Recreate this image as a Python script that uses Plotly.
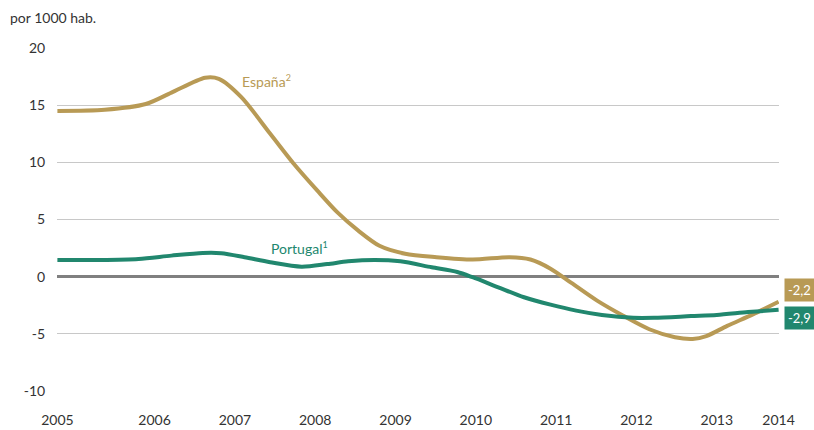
import plotly.graph_objects as go

# Decimal-year positions and values (por 1000 hab.)
spain_x = [2004.79, 2005.38, 2005.89, 2006.21, 2006.63, 2006.80, 2007.08, 2007.44, 2007.73,
           2008.03, 2008.28, 2008.54, 2008.80, 2009.12, 2009.51, 2009.96, 2010.42, 2010.68,
           2010.93, 2011.19, 2011.51, 2011.83, 2012.16, 2012.48, 2012.70, 2012.87, 2013.13,
           2013.45, 2013.77]
spain_y = [14.5, 14.6, 15.1, 16.1, 17.4, 17.3, 15.7, 12.5, 9.9,
           7.5, 5.6, 4.0, 2.7, 2.0, 1.7, 1.5, 1.7, 1.5,
           0.7, -0.55, -2.1, -3.4, -4.6, -5.3, -5.45, -5.2, -4.3,
           -3.3, -2.2]

port_x = [2004.79, 2005.32, 2005.80, 2006.21, 2006.60, 2006.83, 2007.12, 2007.44, 2007.83,
          2008.15, 2008.41, 2008.74, 2009.06, 2009.45, 2009.77, 2009.96, 2010.28, 2010.60,
          2010.93, 2011.25, 2011.57, 2011.96, 2012.22, 2012.68, 2013.00, 2013.39, 2013.77]
port_y = [1.46, 1.46, 1.55, 1.84, 2.07, 2.05, 1.7, 1.26, 0.87,
          1.1, 1.34, 1.46, 1.34, 0.82, 0.41, -0.05, -0.93, -1.8,
          -2.45, -2.97, -3.35, -3.6, -3.6, -3.45, -3.35, -3.1, -2.9]

tick_vals = [2004.79, 2006, 2007, 2008, 2009, 2010, 2011, 2012, 2013, 2013.77]
tick_text = ["2005", "2006", "2007", "2008", "2009", "2010", "2011", "2012", "2013", "2014"]
y_ticks = [-10, -5, 0, 5, 10, 15, 20]
y_tick_text = ["-10", "-5", "0", "5", "10", "15", "20"]

GOLD = "#B89A55"
TEAL = "#21876E"
FONT = "Lato"

fig = go.Figure()
fig.add_trace(go.Scatter(x=spain_x, y=spain_y, mode="lines", name="España",
                         line=dict(color=GOLD, width=4, shape="spline", smoothing=0.8)))
fig.add_trace(go.Scatter(x=port_x, y=port_y, mode="lines", name="Portugal",
                         line=dict(color=TEAL, width=4, shape="spline", smoothing=0.8)))

fig.update_layout(
    width=814, height=430,
    margin=dict(l=57, r=35, t=48, b=39),
    plot_bgcolor="white", paper_bgcolor="white",
    showlegend=False,
    font=dict(family=FONT, size=14, color="#333333"),
    xaxis=dict(range=[2004.785, 2013.775], tickvals=tick_vals, ticktext=tick_text,
               showgrid=False, zeroline=False, showline=False, automargin=False,
               ticks="outside", ticklen=16, tickcolor="rgba(0,0,0,0)",
               tickfont=dict(size=14, color="#333333")),
    yaxis=dict(range=[-10, 20], tickvals=y_ticks, ticktext=y_tick_text, showgrid=True,
               gridcolor="#c8c8c8", gridwidth=1, automargin=False,
               zeroline=True, zerolinecolor="#808080", zerolinewidth=3,
               showline=False, ticks="outside", ticklen=8, tickcolor="rgba(0,0,0,0)",
               tickfont=dict(size=14, color="#333333")),
    annotations=[
        dict(text="por 1000 hab.", xref="paper", yref="paper", x=0, y=1 + 31/343,
             xanchor="left", yanchor="middle", showarrow=False, xshift=-49,
             font=dict(size=14, color="#333333")),
        dict(text="España<sup><span style='font-size:9px'>2</span></sup>", x=2007.06, y=17.1,
             xanchor="left", yanchor="middle",
             showarrow=False, font=dict(size=14, color=GOLD)),
        dict(text="Portugal<sup><span style='font-size:9px'>1</span></sup>", x=2007.42, y=2.5,
             xanchor="left", yanchor="middle",
             showarrow=False, font=dict(size=14, color=TEAL)),
        dict(text="-2,2", x=2013.77, y=-2.2, xanchor="left", yanchor="middle", xshift=5, yshift=12,
             showarrow=False, bgcolor=GOLD, borderpad=3, font=dict(size=13, color="white")),
        dict(text="-2,9", x=2013.77, y=-2.9, xanchor="left", yanchor="middle", xshift=5, yshift=-8,
             showarrow=False, bgcolor=TEAL, borderpad=3, font=dict(size=13, color="white")),
    ],
)

fig.write_html(
    "out.html",
    config={"displayModeBar": False},
    post_script="document.body.style.margin='0';document.body.style.overflow='hidden';",
)
